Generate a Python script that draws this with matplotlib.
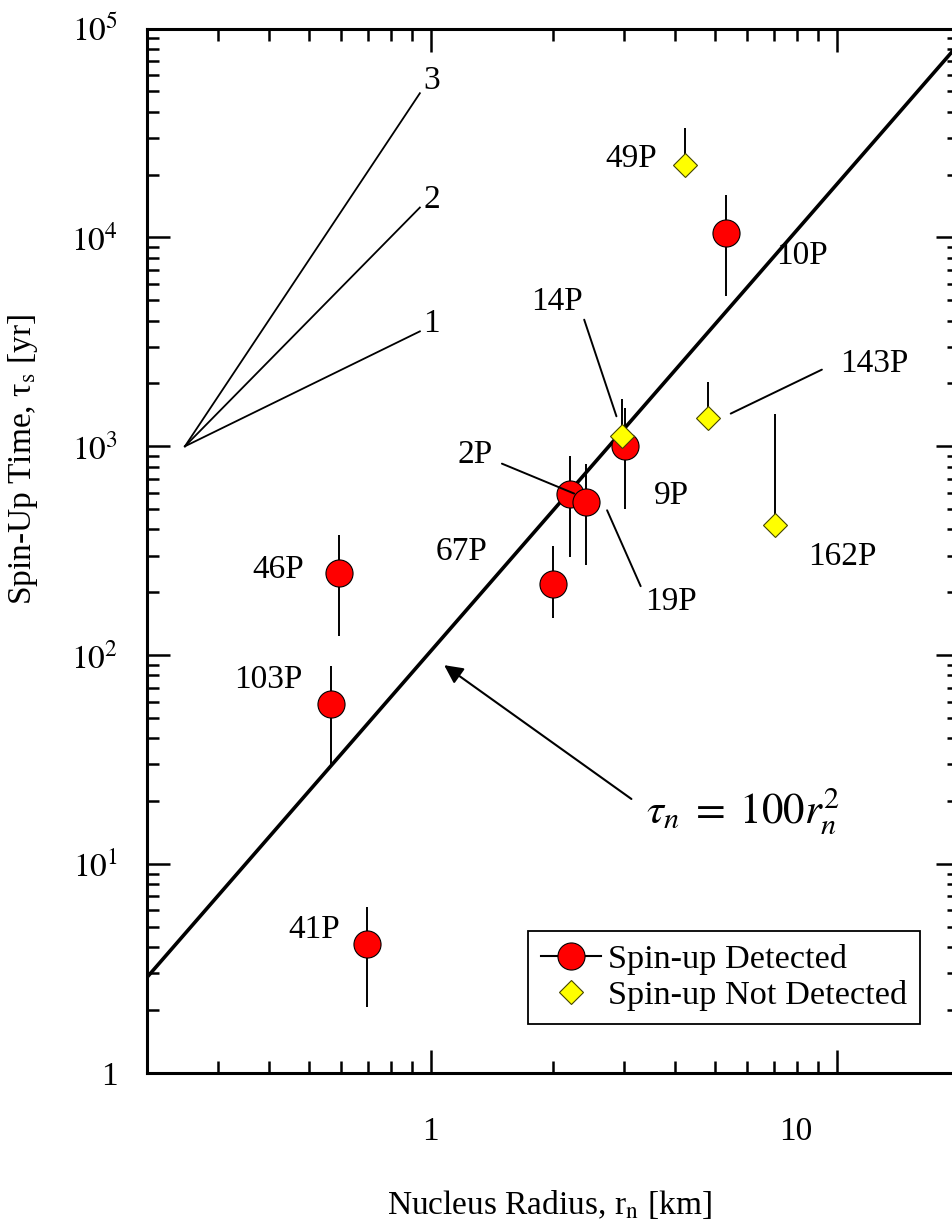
import matplotlib
matplotlib.use("Agg")
import matplotlib.pyplot as plt
from matplotlib.lines import Line2D
from matplotlib.ticker import NullFormatter
from matplotlib.transforms import ScaledTranslation

plt.rcParams['font.family'] = 'Liberation Serif'
plt.rcParams['mathtext.fontset'] = 'stix'

# comets with spin-up detected
det_names = ['2P', '9P', '10P', '19P', '41P', '46P', '67P', '103P']
det_r = [2.20, 3.01, 5.34, 2.41, 0.695, 0.594, 2.00, 0.567]
det_tau = [594, 1008, 10500, 541, 4.13, 248, 220, 58.3]
det_hi = [896, 1525, 16000, 820, 6.25, 375, 332, 88.6]
det_lo = [295, 500, 5260, 269, 2.06, 123, 150, 29.8]

# spin-up not detected
nd_names = ['14P', '49P', '143P', '162P']
nd_r = [2.95, 4.22, 4.83, 7.06]
nd_tau = [1125, 22300, 1366, 418]
nd_hi = [1690, 33500, 2032, 1422]

# tau = 100 r^2 line
fit_r = [0.2, 20]
fit_tau = [2.87, 84500]

# slope guide lines 1, 2, 3
fan_r = [0.248, 0.94]
fan_tau = {'1': [1000, 3550], '2': [1000, 13900], '3': [1000, 49000]}

xtick_vals = [1, 10]
xtick_labels = ['1', '10']
ytick_vals = [1, 10, 100, 1e3, 1e4, 1e5]
ytick_labels = ['1', r'$10^1$', r'$10^2$', r'$10^3$', r'$10^4$', r'$10^5$']

fig = plt.figure(figsize=(9.53, 12.32), dpi=100)
ax = fig.add_axes([147/953, 159/1232, 812/953, 1044.5/1232])
ax.set_xscale('log')
ax.set_yscale('log')
ax.set_xlim(0.2, 20)
ax.set_ylim(1, 1e5)

ax.plot(fit_r, fit_tau, color='black', lw=2.6, zorder=2)
for k in fan_tau:
    ax.plot(fan_r, fan_tau[k], color='black', lw=1.3, zorder=2)
    fy = 1.15 if k == '3' else 1.09
    ax.text(fan_r[1] * 1.07, fan_tau[k][1] * fy, k, fontsize=24,
            ha='center', va='center')

# error bars
ax.vlines(det_r, det_lo, det_hi, color='black', lw=1.4, zorder=3)
ax.vlines(nd_r, nd_tau, nd_hi, color='black', lw=1.4, zorder=3)

ax.plot(det_r, det_tau, ls='none', marker='o', ms=19.5, mfc='#ff0000',
        mec='black', mew=0.8, zorder=4)
ax.plot(nd_r, nd_tau, ls='none', marker='D', ms=12.5, mfc='#ffff00',
        mec='#444400', mew=0.8, zorder=5)

# labels
lab_pos = {
    '2P': (1.286, 916), '9P': (3.92, 583), '10P': (8.23, 8200),
    '19P': (3.90, 180), '41P': (0.5156, 4.83), '46P': (0.420, 257),
    '67P': (1.192, 312), '103P': (0.3985, 75.9), '14P': (2.05, 4900),
    '49P': (3.12, 23800), '143P': (12.4, 2488), '162P': (10.35, 295),
}
for name, (x, y) in lab_pos.items():
    ax.text(x, y, name, fontsize=24, ha='center', va='center', zorder=6)

leaders = [
    ((1.497, 826), (2.255, 594)),
    ((2.718, 494), (3.288, 214)),
    ((2.387, 4038), (2.866, 1392)),
    ((9.19, 2328), (5.48, 1434)),
]
for a, b in leaders:
    ax.annotate('', xy=b, xytext=a, zorder=6,
                arrowprops=dict(arrowstyle='-', lw=1.4, color='black',
                                shrinkA=0, shrinkB=0))

ax.annotate('', xy=(1.079, 89.6), xytext=(3.12, 20.5),
            arrowprops=dict(arrowstyle='-|>', mutation_scale=28, lw=1.5,
                            color='black', shrinkA=0, shrinkB=0))
ax.text(3.38, 18.0, r'$\tau_n\;=\;100r_n^2$', fontsize=31, ha='left',
        va='center')

# axes styling
ax.set_xticks(xtick_vals, xtick_labels)
ax.set_yticks(ytick_vals, ytick_labels)
ax.xaxis.set_minor_formatter(NullFormatter())
ax.yaxis.set_minor_formatter(NullFormatter())
ax.tick_params(which='both', direction='in', top=True, right=True,
               width=1.8, labelsize=24)
ax.tick_params(which='major', length=16.5)
ax.tick_params(which='minor', length=8.6)
ax.tick_params(axis='x', pad=31)
ax.tick_params(axis='y', pad=21)
for s in ax.spines.values():
    s.set_linewidth(2.2)

# the "10" label sits left of its tick in the original
lbl = ax.get_xticklabels()[1]
lbl.set_transform(lbl.get_transform() + ScaledTranslation(-0.41, 0, fig.dpi_scale_trans))

ax.set_xlabel(r'Nucleus Radius, r$_{\rm n}$ [km]', fontsize=24)
ax.xaxis.set_label_coords(0.496, -0.110)
ax.set_ylabel('Spin-Up Time, τ$_{\\rm s}$ [yr]', fontsize=24)
ax.yaxis.set_label_coords(-0.132, 0.587)

handles = [
    Line2D([], [], color='black', lw=1.5, marker='o', ms=19.5, mfc='#ff0000',
           mec='black', mew=0.8),
    Line2D([], [], ls='none', marker='D', ms=12.5, mfc='#ffff00',
           mec='#444400', mew=0.8),
]
leg = ax.legend(handles, ['Spin-up Detected', 'Spin-up Not Detected'],
                loc='lower right', bbox_to_anchor=(0.952, 0.047),
                borderaxespad=0, fontsize=24.7, fancybox=False,
                edgecolor='black', framealpha=1, borderpad=0.38,
                handlelength=1.75, handletextpad=0.2, labelspacing=0.15)
leg.get_frame().set_linewidth(1.3)

fig.savefig('out.png', dpi=100)
